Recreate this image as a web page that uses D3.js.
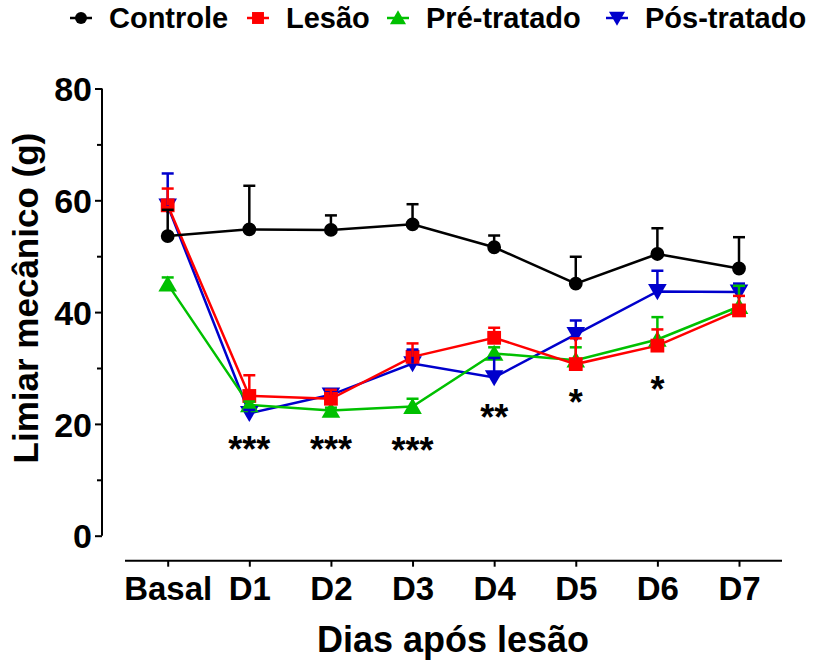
<!DOCTYPE html>
<html>
<head>
<meta charset="utf-8">
<script src="https://cdn.jsdelivr.net/npm/d3@7"></script>
<style>
  html, body { margin: 0; padding: 0; background: #fff; }
  svg { display: block; }
  text { font-family: "Liberation Sans", Arial, sans-serif; font-weight: bold; }
</style>
</head>
<body>
<svg id="chart" width="817" height="662"></svg>
<script>
// ---- Data ----
const categories = ["Basal", "D1", "D2", "D3", "D4", "D5", "D6", "D7"];
const seriesNames = ["Controle", "Lesão", "Pré-tratado", "Pós-tratado"];
const controleMean = [53.6, 54.8, 54.7, 55.7, 51.6, 45.1, 50.4, 47.8];
const controleErr  = [4.7, 7.8, 2.6, 3.6, 2.1, 4.8, 4.6, 5.6];
const lesaoMean    = [59.1, 25.0, 24.5, 32.0, 35.4, 30.7, 34.0, 40.3];
const lesaoErr     = [3.0, 3.7, 1.6, 2.4, 1.8, 4.6, 2.9, 2.6];
const preMean      = [45.0, 23.4, 22.4, 23.1, 32.6, 31.4, 35.1, 41.0];
const preErr       = [1.2, 0.6, 0.5, 1.4, 1.1, 2.3, 4.0, 3.7];
const posMean      = [59.0, 21.9, 25.2, 30.8, 28.3, 36.0, 43.7, 43.6];
const posErr       = [5.8, 0.6, 0.8, 2.5, 3.5, 2.5, 3.7, 1.5];
const yTicks = [0, 20, 40, 60, 80];
const yMinorTicks = [10, 30, 50, 70];
const sigLabels = ["", "***", "***", "***", "**", "*", "*", ""];
const sigValues = [null, 16.9, 16.9, 16.7, 22.5, 25.2, 27.5, null];
const yTitle = "Limiar mecânico (g)";
const xTitle = "Dias após lesão";

const colors = ["#000000", "#ff0000", "#00c000", "#0000cc"];
const symbols = [d3.symbolCircle, d3.symbolSquare, d3.symbolTriangle, d3.symbolTriangle];
const symSizes = [150, 190, 150, 150];
const symRot = [0, 0, 0, 180];

const series = [
  { name: seriesNames[0], mean: controleMean, err: controleErr },
  { name: seriesNames[1], mean: lesaoMean, err: lesaoErr },
  { name: seriesNames[2], mean: preMean, err: preErr },
  { name: seriesNames[3], mean: posMean, err: posErr }
];

const svg = d3.select("#chart");

const x = d3.scalePoint().domain(categories).range([167.7, 739]);
const y = d3.scaleLinear().domain([0, 80]).range([535.7, 88.5]);

// ---- Y axis ----
const yAxisX = 102;
const yAxis = d3.axisLeft(y).tickValues(yTicks).tickSize(7).tickPadding(3).tickFormat(d3.format("d"));
const gy = svg.append("g").attr("transform", `translate(${yAxisX},0)`).call(yAxis);
gy.select(".domain").attr("stroke", "#000").attr("stroke-width", 2).attr("d", `M-0,${y(80)}H0V${y(0)}H-0`);
gy.selectAll(".tick line").attr("stroke", "#000").attr("stroke-width", 2);
gy.selectAll(".tick text").attr("fill", "#000").style("font-size", "34px").attr("dy", "0.36em");
const gyMinor = svg.append("g").attr("transform", `translate(${yAxisX},0)`)
  .call(d3.axisLeft(y).tickValues(yMinorTicks).tickSize(5).tickFormat(""));
gyMinor.select(".domain").remove();
gyMinor.selectAll(".tick line").attr("stroke", "#000").attr("stroke-width", 2);

// ---- X axis ----
const xAxisY = 560.7;
const xAxis = d3.axisBottom(x).tickSize(6).tickPadding(8);
const gx = svg.append("g").attr("transform", `translate(0,${xAxisY})`).call(xAxis);
gx.select(".domain").attr("stroke", "#000").attr("stroke-width", 2).attr("d", `M125,0H782`);
gx.selectAll(".tick line").attr("stroke", "#000").attr("stroke-width", 2);
gx.selectAll(".tick text").attr("fill", "#000").style("font-size", "33px").attr("dy", "0.78em");

// ---- Axis titles ----
svg.append("text")
  .attr("transform", `translate(38,${(y(0) + y(80)) / 2 - 14}) rotate(-90)`)
  .attr("text-anchor", "middle")
  .style("font-size", "35px")
  .text(yTitle);
svg.append("text")
  .attr("x", 453).attr("y", 652)
  .attr("text-anchor", "middle")
  .style("font-size", "36px")
  .text(xTitle);

// ---- Series: lines, markers (reverse order), error bars on top ----
const line = d3.line().x((d, i) => x(categories[i])).y(d => y(d));
const linesG = svg.append("g");
const markersG = svg.append("g");
const errG = svg.append("g");
const order = [3, 2, 1, 0];
order.forEach(si => {
  const s = series[si];
  linesG.append("path").datum(s.mean).attr("d", line).attr("fill", "none")
    .attr("stroke", colors[si]).attr("stroke-width", 2.5);
});
order.forEach(si => {
  const s = series[si];
  markersG.append("g").selectAll("path").data(s.mean).enter().append("path")
    .attr("d", d3.symbol().type(symbols[si]).size(symSizes[si]))
    .attr("transform", (d, i) => `translate(${x(categories[i])},${y(d) + (si === 2 ? 2 : si === 3 ? -2 : 0)}) rotate(${symRot[si]})`)
    .attr("fill", colors[si]);
});
order.forEach(si => {
  const s = series[si];
  s.mean.forEach((m, i) => {
    const cx = x(categories[i]);
    errG.append("line").attr("x1", cx).attr("x2", cx).attr("y1", y(m)).attr("y2", y(m + s.err[i]))
      .attr("stroke", colors[si]).attr("stroke-width", 2.5);
    errG.append("line").attr("x1", cx - 6).attr("x2", cx + 6).attr("y1", y(m + s.err[i])).attr("y2", y(m + s.err[i]))
      .attr("stroke", colors[si]).attr("stroke-width", 2.5);
  });
});

// ---- Significance stars (value = vertical centre of the stars) ----
svg.selectAll("text.sig").data(sigLabels).enter().append("text")
  .attr("class", "sig")
  .attr("x", (d, i) => x(categories[i]))
  .attr("y", (d, i) => sigValues[i] == null ? 0 : y(sigValues[i]))
  .attr("dy", "0.57em")
  .attr("text-anchor", "middle")
  .style("font-size", "36px")
  .text(d => d);

// ---- Legend ----
const legendX = [81, 258, 398, 617];
const legendY = 18;
const lg = svg.append("g");
seriesNames.forEach((name, si) => {
  const cx = legendX[si];
  lg.append("line").attr("x1", cx - 11).attr("x2", cx + 11).attr("y1", legendY).attr("y2", legendY)
    .attr("stroke", colors[si]).attr("stroke-width", 2.5);
  lg.append("path")
    .attr("d", d3.symbol().type(symbols[si]).size(symSizes[si] * 0.75))
    .attr("transform", `translate(${cx},${legendY + (si === 2 ? 1.5 : si === 3 ? -1.5 : 0)}) rotate(${symRot[si]})`)
    .attr("fill", colors[si]);
  lg.append("text").attr("x", cx + 28).attr("y", legendY).attr("dy", "0.36em")
    .style("font-size", "29px").text(name);
});
</script>
</body>
</html>
